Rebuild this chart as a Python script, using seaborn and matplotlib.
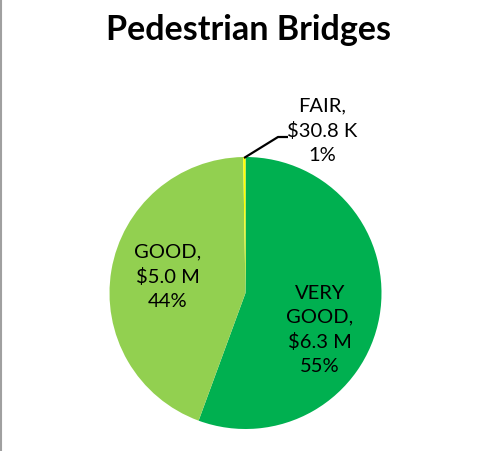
import matplotlib
matplotlib.use('Agg')
import matplotlib.pyplot as plt
import seaborn as sns
from matplotlib.lines import Line2D

sns.set_theme(style='white')
plt.rcParams['font.family'] = ['Lato', 'DejaVu Sans']

# 데이터 (단위: 백만 달러), 시계 방향으로 12시부터
categories = ['VERY\nGOOD', 'GOOD', 'FAIR']
values = [6.3, 5.0, 0.0308]
value_labels = ['$6.3 M', '$5.0 M', '$30.8 K']
pct_labels = ['55%', '44%', '1%']
colors = ['#00B050', '#92D050', '#FFFF00']

W, H = 484, 451
fig = plt.figure(figsize=(W / 100, H / 100), dpi=100)
ax = fig.add_axes([0, 0, 1, 1])

cx, cy, r = 245.5, H - 293, 136
ax.pie(values, colors=colors, startangle=90, counterclock=False,
       center=(cx, cy), radius=r, frame=True,
       wedgeprops=dict(linewidth=0))
ax.set_xlim(0, W)
ax.set_ylim(0, H)
ax.axis('off')

# 라벨
lab_pos = [(320, H - 330), (168, H - 277), (322, H - 131)]
for cat, val, pct, (x, y) in zip(categories, value_labels, pct_labels, lab_pos):
    ax.text(x, y, f'{cat},\n{val}\n{pct}', ha='center', va='center',
            fontsize=14.5, color='black', linespacing=1.5)

# FAIR 지시선
ax.plot([244, 278, 288], [H - 158, H - 137, H - 137], color='black', lw=1.6,
        solid_capstyle='butt')

fig.text(249 / W, 1 - 30 / H, 'Pedestrian Bridges', ha='center', va='center',
         fontsize=24.5, fontweight='bold', color='black')

fig.add_artist(Line2D([0.5 / W, 0.5 / W], [0, 1], color='#A0A0A0', lw=1.5))

fig.savefig('out.png', dpi=100)
